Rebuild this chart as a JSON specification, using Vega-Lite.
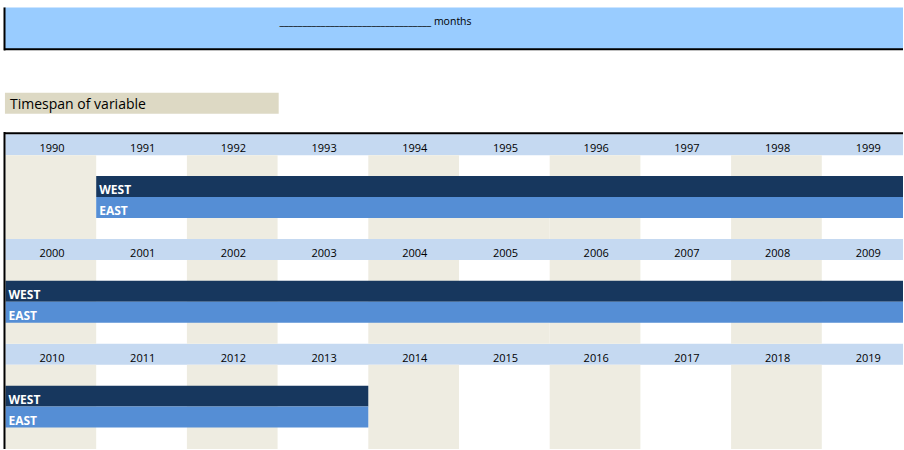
{
  "$schema": "https://vega.github.io/schema/vega-lite/v6.json",
  "width": 904,
  "height": 450,
  "autosize": {"type": "fit", "contains": "padding"},
  "padding": 0,
  "background": "white",
  "config": {"view": {"stroke": null}},
  "datasets": {
    "cells": [
      {"kind": "band", "x": -0.006, "x2": 10, "y": -6.05, "y2": -4.07},
      {"kind": "box", "x": -0.006, "x2": 3.012, "y": -1.98, "y2": -0.98},
      {"kind": "header", "x": 0, "x2": 10, "y": 0, "y2": 1},
      {"kind": "header", "x": 0, "x2": 10, "y": 5, "y2": 6},
      {"kind": "header", "x": 0, "x2": 10, "y": 10, "y2": 11},
      {"kind": "shade", "x": 0, "x2": 1, "y": 1, "y2": 5},
      {"kind": "shade", "x": 2, "x2": 3, "y": 1, "y2": 5},
      {"kind": "shade", "x": 4, "x2": 5, "y": 1, "y2": 5},
      {"kind": "shade", "x": 6, "x2": 7, "y": 1, "y2": 5},
      {"kind": "shade", "x": 8, "x2": 9, "y": 1, "y2": 5},
      {"kind": "shade", "x": 5, "x2": 6, "y": 4, "y2": 5},
      {"kind": "shade", "x": 0, "x2": 1, "y": 6, "y2": 10},
      {"kind": "shade", "x": 2, "x2": 3, "y": 6, "y2": 10},
      {"kind": "shade", "x": 4, "x2": 5, "y": 6, "y2": 10},
      {"kind": "shade", "x": 6, "x2": 7, "y": 6, "y2": 10},
      {"kind": "shade", "x": 8, "x2": 9, "y": 6, "y2": 10},
      {"kind": "shade", "x": 5, "x2": 6, "y": 9, "y2": 10},
      {"kind": "shade", "x": 0, "x2": 1, "y": 11, "y2": 16},
      {"kind": "shade", "x": 2, "x2": 3, "y": 11, "y2": 16},
      {"kind": "shade", "x": 4, "x2": 5, "y": 11, "y2": 16},
      {"kind": "shade", "x": 6, "x2": 7, "y": 11, "y2": 16},
      {"kind": "shade", "x": 8, "x2": 9, "y": 11, "y2": 16},
      {"kind": "west", "x": 1, "x2": 10, "y": 2, "y2": 3},
      {"kind": "east", "x": 1, "x2": 10, "y": 3, "y2": 4},
      {"kind": "west", "x": 0, "x2": 10, "y": 7, "y2": 8},
      {"kind": "east", "x": 0, "x2": 10, "y": 8, "y2": 9},
      {"kind": "west", "x": 0, "x2": 4, "y": 12, "y2": 13},
      {"kind": "east", "x": 0, "x2": 4, "y": 13, "y2": 14}
    ],
    "hlines": [
      {"x": -0.017, "x2": 10, "y": -0.05},
      {"x": -0.017, "x2": 10, "y": -4.06}
    ],
    "vlines": [
      {"x": -0.011, "y": -0.1, "y2": 16},
      {"x": -0.011, "y": -6.05, "y2": -4.0}
    ],
    "years": [
      {"year": "1990", "col": 0, "row": 0}, {"year": "1991", "col": 1, "row": 0},
      {"year": "1992", "col": 2, "row": 0}, {"year": "1993", "col": 3, "row": 0},
      {"year": "1994", "col": 4, "row": 0}, {"year": "1995", "col": 5, "row": 0},
      {"year": "1996", "col": 6, "row": 0}, {"year": "1997", "col": 7, "row": 0},
      {"year": "1998", "col": 8, "row": 0}, {"year": "1999", "col": 9, "row": 0},
      {"year": "2000", "col": 0, "row": 5}, {"year": "2001", "col": 1, "row": 5},
      {"year": "2002", "col": 2, "row": 5}, {"year": "2003", "col": 3, "row": 5},
      {"year": "2004", "col": 4, "row": 5}, {"year": "2005", "col": 5, "row": 5},
      {"year": "2006", "col": 6, "row": 5}, {"year": "2007", "col": 7, "row": 5},
      {"year": "2008", "col": 8, "row": 5}, {"year": "2009", "col": 9, "row": 5},
      {"year": "2010", "col": 0, "row": 10}, {"year": "2011", "col": 1, "row": 10},
      {"year": "2012", "col": 2, "row": 10}, {"year": "2013", "col": 3, "row": 10},
      {"year": "2014", "col": 4, "row": 10}, {"year": "2015", "col": 5, "row": 10},
      {"year": "2016", "col": 6, "row": 10}, {"year": "2017", "col": 7, "row": 10},
      {"year": "2018", "col": 8, "row": 10}, {"year": "2019", "col": 9, "row": 10}
    ],
    "bars": [
      {"label": "WEST", "col": 1, "row": 2},
      {"label": "EAST", "col": 1, "row": 3},
      {"label": "WEST", "col": 0, "row": 7},
      {"label": "EAST", "col": 0, "row": 8},
      {"label": "WEST", "col": 0, "row": 12},
      {"label": "EAST", "col": 0, "row": 13}
    ],
    "months": [
      {"label": "_________________________________ months", "col": 3.02, "row": -5.21}
    ],
    "title": [
      {"label": "Timespan of variable", "col": 0.05, "row": -1.19}
    ]
  },
  "layer": [
    {
      "data": {"name": "cells"},
      "mark": {"type": "rect", "strokeWidth": 0},
      "encoding": {
        "x": {"field": "x", "type": "quantitative", "scale": {"domain": [-0.0606, 9.8953], "nice": false, "zero": false, "clamp": true}, "axis": null},
        "x2": {"field": "x2"},
        "y": {"field": "y", "type": "quantitative", "scale": {"domain": [-6.405, 15.024], "nice": false, "zero": false, "clamp": true, "reverse": true}, "axis": null},
        "y2": {"field": "y2"},
        "color": {
          "field": "kind", "type": "nominal", "legend": null,
          "scale": {"domain": ["band", "box", "header", "shade", "west", "east"],
                    "range": ["#99CCFF", "#DDD9C4", "#C5D9F1", "#EEECE1", "#17375E", "#558ED5"]}
        },
        "opacity": {"value": 1}
      }
    },
    {
      "data": {"name": "hlines"},
      "mark": {"type": "rule", "color": "#000000", "strokeWidth": 2},
      "encoding": {
        "x": {"field": "x", "type": "quantitative", "scale": {"domain": [-0.0606, 9.8953], "nice": false, "zero": false, "clamp": true}, "axis": null},
        "x2": {"field": "x2"},
        "y": {"field": "y", "type": "quantitative", "scale": {"domain": [-6.405, 15.024], "nice": false, "zero": false, "clamp": true, "reverse": true}, "axis": null}
      }
    },
    {
      "data": {"name": "vlines"},
      "mark": {"type": "rule", "color": "#000000", "strokeWidth": 2},
      "encoding": {
        "x": {"field": "x", "type": "quantitative", "scale": {"domain": [-0.0606, 9.8953], "nice": false, "zero": false, "clamp": true}, "axis": null},
        "y": {"field": "y", "type": "quantitative", "scale": {"domain": [-6.405, 15.024], "nice": false, "zero": false, "clamp": true, "reverse": true}, "axis": null},
        "y2": {"field": "y2"}
      }
    },
    {
      "data": {"name": "years"},
      "mark": {"type": "text", "align": "center", "baseline": "alphabetic", "dx": 46.5, "dy": 18, "font": "Open Sans", "fontSize": 11, "color": "#000000"},
      "encoding": {
        "x": {"field": "col", "type": "quantitative", "scale": {"domain": [-0.0606, 9.8953], "nice": false, "zero": false, "clamp": true}, "axis": null},
        "y": {"field": "row", "type": "quantitative", "scale": {"domain": [-6.405, 15.024], "nice": false, "zero": false, "clamp": true, "reverse": true}, "axis": null},
        "text": {"field": "year"}
      }
    },
    {
      "data": {"name": "bars"},
      "mark": {"type": "text", "align": "left", "baseline": "alphabetic", "dx": 3, "dy": 18, "font": "Open Sans", "fontWeight": "bold", "fontSize": 12, "color": "#FFFFFF"},
      "encoding": {
        "x": {"field": "col", "type": "quantitative", "scale": {"domain": [-0.0606, 9.8953], "nice": false, "zero": false, "clamp": true}, "axis": null},
        "y": {"field": "row", "type": "quantitative", "scale": {"domain": [-6.405, 15.024], "nice": false, "zero": false, "clamp": true, "reverse": true}, "axis": null},
        "text": {"field": "label"}
      }
    },
    {
      "data": {"name": "months"},
      "mark": {"type": "text", "align": "left", "baseline": "alphabetic", "font": "Open Sans", "fontSize": 10.5, "color": "#000000"},
      "encoding": {
        "x": {"field": "col", "type": "quantitative", "scale": {"domain": [-0.0606, 9.8953], "nice": false, "zero": false, "clamp": true}, "axis": null},
        "y": {"field": "row", "type": "quantitative", "scale": {"domain": [-6.405, 15.024], "nice": false, "zero": false, "clamp": true, "reverse": true}, "axis": null},
        "text": {"field": "label"}
      }
    },
    {
      "data": {"name": "title"},
      "mark": {"type": "text", "align": "left", "baseline": "alphabetic", "font": "Open Sans", "fontSize": 14, "color": "#000000"},
      "encoding": {
        "x": {"field": "col", "type": "quantitative", "scale": {"domain": [-0.0606, 9.8953], "nice": false, "zero": false, "clamp": true}, "axis": null},
        "y": {"field": "row", "type": "quantitative", "scale": {"domain": [-6.405, 15.024], "nice": false, "zero": false, "clamp": true, "reverse": true}, "axis": null},
        "text": {"field": "label"}
      }
    }
  ]
}
